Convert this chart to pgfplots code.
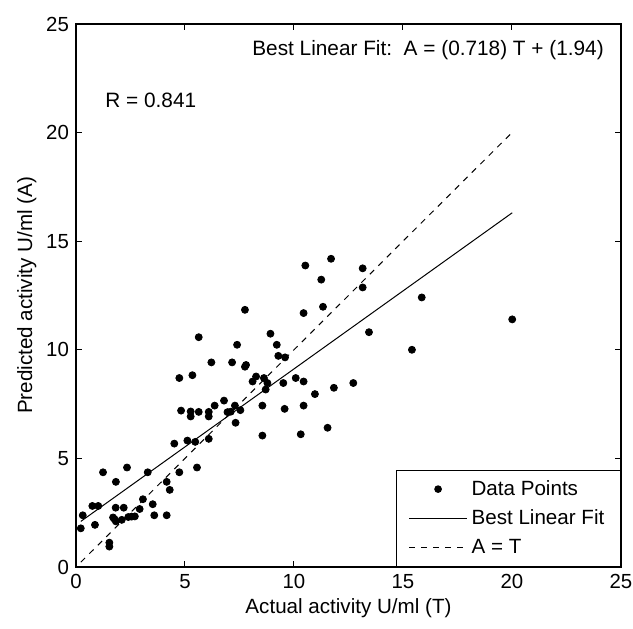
\documentclass[border=0pt]{standalone}
\usepackage{pgfplots}
\pgfplotsset{compat=1.18}
\usepackage{fontspec}
\setmainfont{Liberation Sans}
\begin{document}
\begin{tikzpicture}
\begin{axis}[
  scale only axis,
  width=272.5pt, height=271.5pt,
  xmin=0, xmax=25, ymin=0, ymax=25,
  xtick={0,5,10,15,20,25}, ytick={0,5,10,15,20,25},
  tick align=inside,
  major tick length=3pt,
  axis line style={line width=0.6pt},
  tick style={line width=0.5pt, black},
  /pgf/number format/assume math mode=true,
  tick label style={font=\fontsize{10.2}{12}\selectfont},
  label style={font=\fontsize{10.3}{12}\selectfont},
  xlabel={Actual activity U/ml (T)},
  ylabel={Predicted activity U/ml (A)},
  xlabel style={yshift=2pt},
  ylabel style={yshift=-2pt},
  legend style={at={(1,0)}, anchor=south east, draw=black, line width=0.6pt,
    font=\fontsize{10.3}{12}\selectfont, row sep=1.8pt, inner xsep=6pt, inner ysep=3pt},
  legend cell align=left,
]
\addplot[only marks, mark=*, mark size=1.75pt, black,
  legend image code/.code={\fill[black] (14.5pt,0pt) circle (1.6pt);}]
  coordinates {
  (0.22,1.78) (0.31,2.38) (0.75,2.81) (1.02,2.81) (0.87,1.94) (1.24,4.36)
  (1.83,3.92) (2.34,4.58) (1.53,1.12) (1.53,0.94) (1.70,2.28) (1.77,2.20)
  (1.83,2.10) (1.82,2.73) (2.19,2.73) (2.10,2.17) (2.40,2.30) (2.55,2.32)
  (2.70,2.33) (2.92,2.67) (3.07,3.12) (3.29,4.36) (3.52,2.89) (3.59,2.38)
  (4.16,3.92) (4.30,3.55) (4.16,2.38) (4.74,4.36) (4.51,5.68) (5.11,5.82)
  (5.47,5.76) (5.55,4.58) (6.09,5.90) (4.82,7.20) (5.26,7.16) (5.26,6.93)
  (5.63,7.14) (6.09,7.14) (6.09,6.93) (6.36,7.43) (6.79,7.66) (6.95,7.13)
  (7.10,7.15) (7.29,7.43) (7.32,6.64) (7.54,7.22) (8.55,7.43) (8.55,6.05)
  (8.10,8.54) (8.26,8.77) (4.74,8.70) (5.34,8.83) (8.62,8.70) (8.78,8.47)
  (8.70,8.17) (10.08,8.70) (10.44,8.54) (9.51,8.47) (12.72,8.47) (11.83,8.25)
  (10.96,7.96) (10.44,7.43) (9.57,7.28) (10.31,6.11) (11.54,6.41) (6.21,9.42)
  (7.16,9.42) (7.75,9.22) (7.80,9.30) (9.28,9.72) (9.59,9.65) (5.63,10.58)
  (7.39,10.23) (8.92,10.74) (9.21,10.23) (7.75,11.84) (10.44,11.69) (11.33,11.98)
  (13.44,10.81) (10.52,13.88) (11.70,14.19) (13.15,13.75) (11.25,13.23) (13.15,12.87)
  (15.86,12.41) (20.01,11.40) (15.41,10.00)
  };
\addlegendentry{Data Points}
\addplot[black, line width=0.5pt, mark=none,
  legend image code/.code={\draw[black, line width=0.5pt] (0pt,0pt) -- (29pt,0pt);}]
  coordinates {(0.22,2.098) (20.01,16.307)};
\addlegendentry{Best Linear Fit}
\addplot[black, line width=0.5pt, dashed, mark=none,
  legend image code/.code={\draw[black, line width=0.5pt, dashed] (0pt,0pt) -- (29pt,0pt);}]
  coordinates {(0.22,0.22) (20.01,20.01)};
\addlegendentry{A = T}
\node[anchor=west, font=\fontsize{10.4}{12}\selectfont, inner sep=0pt] at (axis cs:8.07,23.8) {Best Linear Fit:\ \ A = (0.718) T + (1.94)};
\node[anchor=west, font=\fontsize{10.4}{12}\selectfont, inner sep=0pt] at (axis cs:1.33,21.5) {R = 0.841};
\end{axis}
\pgfresetboundingbox
\path ([xshift=-38pt,yshift=-31pt]current axis.south west) rectangle ([xshift=6pt,yshift=12pt]current axis.north east);
\end{tikzpicture}
\end{document}
